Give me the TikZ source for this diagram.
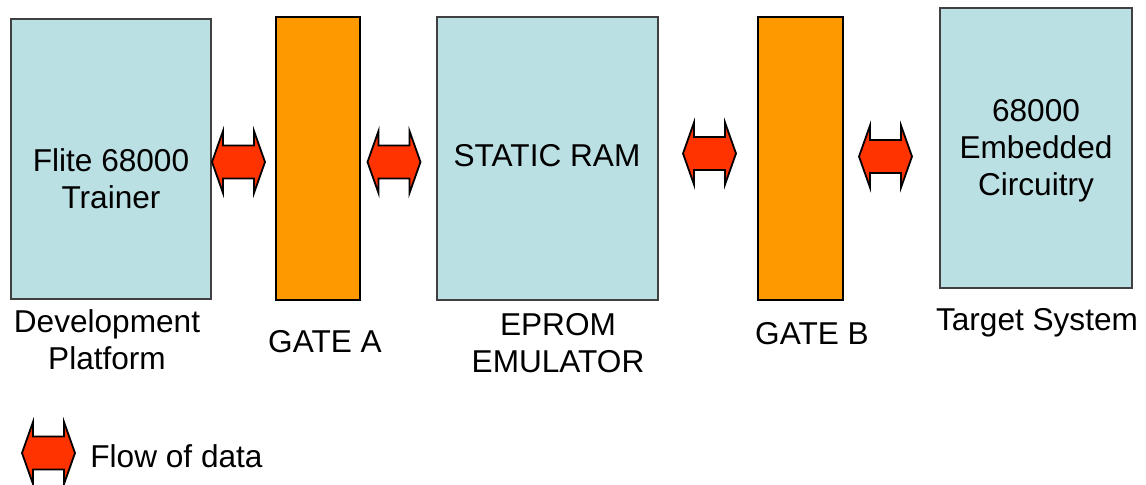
\documentclass[tikz,border=0pt]{standalone}
\usepackage{fontspec}
\setmainfont{Liberation Sans}
\definecolor{boxblue}{RGB}{187,224,227}
\definecolor{gateorange}{RGB}{255,153,0}
\definecolor{flowred}{RGB}{255,51,0}
\begin{document}
\begin{tikzpicture}[x=0.5pt,y=-0.5pt,
  every node/.style={font=\fontsize{15.8}{18.5}\selectfont, align=center, inner sep=0pt},
  unit/.style={draw=black!75, line width=0.6pt, fill=boxblue},
  gate/.style={draw=black, line width=0.6pt, fill=gateorange},
  flowarrow/.pic={\draw[fill=flowred, draw=black, line width=0.9pt, line join=miter]
     (-26.5,0) -- (-15.5,-31) -- (-15.5,-16.5) -- (15.5,-16.5) -- (15.5,-31) -- (26.5,0)
     -- (15.5,31) -- (15.5,16.5) -- (-15.5,16.5) -- (-15.5,31) -- cycle;}
]
\useasboundingbox (0,0) rectangle (1146,484);
% boxes
\draw[unit] (11,19) rectangle (211,299);
\draw[gate] (276,17) rectangle (360,300);
\draw[unit] (437,17) rectangle (658,300);
\draw[gate] (758,17) rectangle (843,300);
\draw[unit] (940,8) rectangle (1132,288);
% texts inside
\node (devtext) at (111,179) {Flite 68000\\Trainer};
\node (ramtext) at (547,156) {STATIC RAM};
\node (tgttext) at (1036,151) {68000\\Embedded\\Circuitry};
% labels
\node (devlabel) at (107,340) {Development\\Platform};
\node (gatealabel) at (325,342) {GATE A};
\node (epromlabel) at (558,343) {EPROM\\EMULATOR};
\node (gateblabel) at (812,334) {GATE B};
\node (tgtlabel) at (1037,323) {Target System};
% flow arrows
\pic at (238.5,162) {flowarrow};
\pic at (394,162) {flowarrow};
\pic at (709.5,153.5) {flowarrow};
\pic at (885.5,156.5) {flowarrow};
% legend
\pic at (48.5,453) {flowarrow};
\node[anchor=west] (legend) at (90,456) {Flow of data};
\end{tikzpicture}
\end{document}
